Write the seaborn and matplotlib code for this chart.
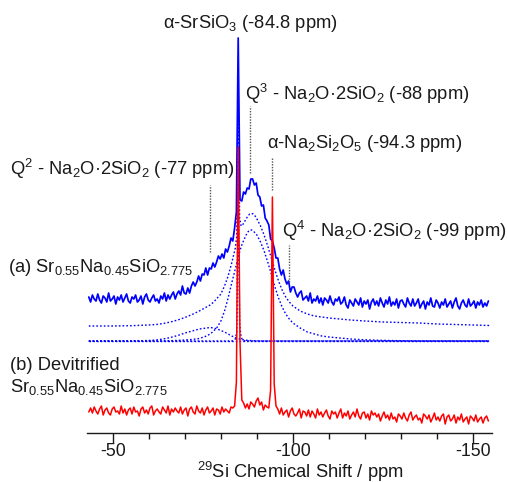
import numpy as np
import matplotlib
matplotlib.use("Agg")
import matplotlib.pyplot as plt
from matplotlib.ticker import MultipleLocator
import seaborn as sns

# ---------------------------------------------------------------------------
# 29Si MAS NMR spectra: glass (a) and devitrified sample (b)
# chemical-shift axis of both measured traces, 0.5 ppm steps
shift = np.round(-43.3 - 0.5 * np.arange(223), 1)

# (a) Sr0.55Na0.45SiO2.775 glass, intensity (a.u.)
glass_signal = [
    3, -2, 5, 1, -1, 6, 0, -3, 4, 2,
    -2, 7, -1, 1, 4, -4, 3, 0, 5, -2,
    2, 6, -1, -3, 3, 1, 5, -2, 0, 4,
    -4, 3, 6, 0, -2, 2, 5, -1, 1, -3,
    4, 1, 7, -1, 5, 1, 5, 8, 1, 6,
    9, 5, 14, 7, 6, 12, 7, 14, 18, 14,
    18, 24, 19, 26, 25, 32, 25, 32, 31, 37,
    33, 38, 44, 41, 46, 42, 51, 48, 54, 62,
    59, 72, 88, 262, 100, 99, 108, 106, 112, 111,
    121, 121, 115, 117, 105, 103, 94, 95, 82, 79,
    75, 61, 59, 52, 42, 42, 31, 25, 30, 21,
    16, 19, 8, 13, 13, 7, 3, 7, 9, 0,
    2, 4, -1, 7, -3, 1, -1, 4, -3, 2,
    -5, 2, 0, -3, 4, -2, -5, 1, -1, 3,
    -4, -2, 3, -5, -8, 0, -3, -6, 1, -2,
    -5, 2, -7, -1, -4, 0, -9, -2, 1, -5,
    -1, -6, 2, -3, -7, 0, -4, 3, -6, -2,
    -5, 1, -8, -1, 0, -4, -7, 2, -3, -6,
    1, -6, -3, 1, -8, -4, -1, -9, -2, -5,
    2, -6, -7, 0, -3, -8, -2, -5, 1, -7,
    -4, -1, -8, -2, 2, -6, -9, -3, 0, -5,
    -7, 1, -6, -4, -1, -8, -2, -5, 0, -7,
    -3, -6, -1,
]

# (b) devitrified Sr0.55Na0.45SiO2.775, intensity (a.u.)
devitrified_signal = [
    0, 4, -1, 5, 1, -2, 3, 6, -3, 2,
    4, -1, -3, 3, 5, 0, 1, -2, 6, -1,
    3, -3, 2, 4, -2, 5, 0, 1, -4, 3,
    5, -1, 2, -2, 4, 6, -3, 1, 3, 0,
    -2, 5, 2, -1, 6, -3, 3, 0, 4, 1,
    -1, 5, -2, 2, 4, -4, 3, 5, 0, -2,
    6, 1, -1, 4, -3, 2, 5, -1, 1, 4,
    -3, 3, 2, -2, 5, 0, 3, 1, -1, 5,
    4, 6, 30, 265, 70, 12, 9, 4, 8, 3,
    10, 8, 5, 11, 14, 7, 10, 2, 7, 5,
    4, 22, 215, 28, 6, 3, -2, 4, -3, 0,
    2, -5, 1, 4, -2, -4, -1, 3, -6, 1,
    0, -4, 2, -5, 1, -2, -6, 3, -3, 0,
    -5, -1, 2, -4, -7, 1, -2, 0, -6, -1,
    3, -6, -1, -4, 1, -7, -3, 0, -5, 3,
    -4, -7, -1, 0, -6, -2, -8, 1, -3, -1,
    -5, -2, -9, -4, 0, -6, -3, -8, -1, -7,
    -5, -10, -2, -4, -7, -1, -6, -9, -3, 0,
    -8, -5, -3, -8, -6, -11, -2, -4, -7, -3,
    -10, -6, -1, -8, -5, -9, -4, -2, -12, -5,
    -3, -9, -7, -3, -11, -5, -8, -2, -10, -7,
    -5, -12, -4, -6, -9, -3, -10, -7, -5, -11,
    -6, -4, -9,
]

# deconvolution of the glass spectrum
fit_shift = [
    -43.3, -50, -55, -60, -62, -64, -66, -68, -70, -72,
    -74, -76, -77, -78, -79, -80, -81, -82, -83, -84,
    -84.4, -84.8, -85.2, -85.6, -86, -86.5, -87, -87.5, -88, -88.5,
    -89, -89.5, -90, -91, -92, -93, -94, -95, -96, -97,
    -98, -99, -100, -102, -104, -106, -108, -110, -113, -116,
    -120, -125, -130, -135, -140, -145, -150, -154.5,
]
fit_total = [
    0, 0, 0.3, 1, 1.5, 2.5, 4, 6, 8.5, 11.5,
    15, 19, 21, 24, 28, 32, 40, 50, 63, 78,
    90, 239, 108, 100, 101, 104, 107, 110, 112, 112.5,
    112, 110, 107, 100, 91, 80, 68, 56, 45, 36,
    29, 24, 20, 15, 12, 10, 9, 8, 7, 6,
    5, 4, 3.5, 3, 2, 1.5, 1, 0.5,
]
fit_q3 = [
    0, 0, 0, 0, 0, 0, 0.3, 0.6, 1, 1.5,
    2.5, 5, 7, 10, 14, 20, 30, 43, 58, 72,
    78, 84, 89, 94, 98, 102, 106, 109, 111, 111,
    110, 108, 106, 99, 90, 79, 67, 54, 43, 34,
    27, 22, 18, 13, 9, 7, 5, 4, 3, 2,
    1.2, 0.6, 0.3, 0, 0, 0, 0, 0,
]
fit_q2 = [
    0, 0, 0, 0.5, 1, 2, 3.5, 5.5, 8, 10,
    12, 13, 13.5, 13, 12, 10.5, 9, 7, 5, 3.5,
    3, 2.5, 2, 1.6, 1.3, 1, 0.8, 0.6, 0.5, 0.4,
    0.3, 0.2, 0.1, 0, 0, 0, 0, 0, 0, 0,
    0, 0, 0, 0, 0, 0, 0, 0, 0, 0,
    0, 0, 0, 0, 0, 0, 0, 0,
]
fit_srsio3 = [
    0, 0, 0, 0, 0, 0, 0, 0, 0, 0,
    0, 0, 0, 0, 0, 0, 0, 0, 0, 2,
    9, 152, 17, 4, 1, 0.3, 0, 0, 0, 0,
    0, 0, 0, 0, 0, 0, 0, 0, 0, 0,
    0, 0, 0, 0, 0, 0, 0, 0, 0, 0,
    0, 0, 0, 0, 0, 0, 0, 0,
]
fit_baseline = [0] * len(fit_shift)

# assigned resonances (ppm)
marker_shift = [-77, -88, -94.3, -99]

# ---------------------------------------------------------------------------
# vertical stacking of the traces
offset_glass = 132.5
offset_total = 106.5
offset_components = 91.5
offset_devitrified = 20.5

BLUE = "#0000FF"
RED = "#FF0000"
DOT = (0, (1.2, 1.5))
INK = "#1a1a1a"

sns.set_theme(style="white")
plt.rcParams["font.family"] = ["Liberation Sans", "DejaVu Sans"]
plt.rcParams["mathtext.fontset"] = "custom"
plt.rcParams["mathtext.rm"] = "Liberation Sans"
plt.rcParams["mathtext.it"] = "Liberation Sans:italic"
plt.rcParams["mathtext.bf"] = "Liberation Sans:bold"
plt.rcParams["axes.unicode_minus"] = False

fig = plt.figure(figsize=(5.07, 4.82), dpi=100)
ax = fig.add_axes([87 / 507, 1 - 432.5 / 482, 405 / 507, 432.5 / 482])

# measured glass spectrum
sns.lineplot(x=shift, y=np.asarray(glass_signal) + offset_glass, ax=ax,
             color=BLUE, lw=1.25, estimator=None, sort=False)

# fitted envelope and individual components
fs = np.asarray(fit_shift)
sns.lineplot(x=fs, y=np.asarray(fit_total) + offset_total, ax=ax,
             color=BLUE, lw=1.0, linestyle=DOT, estimator=None, sort=False)
for comp in (fit_baseline, fit_q2, fit_q3, fit_srsio3):
    sns.lineplot(x=fs, y=np.asarray(comp) + offset_components, ax=ax,
                 color=BLUE, lw=1.0, linestyle=DOT, estimator=None, sort=False)

# devitrified spectrum
sns.lineplot(x=shift, y=np.asarray(devitrified_signal) + offset_devitrified,
             ax=ax, color=RED, lw=1.1, estimator=None, sort=False, zorder=5)

# resonance markers
marker_spans = [(180.5, 247.5), (259.5, 326.5), (242.5, 275.5), (150.5, 187.5)]
for xm, (y0, y1) in zip(marker_shift, marker_spans):
    ax.vlines(xm, y0, y1, colors="#555555", linestyles=(0, (1, 1)), lw=1.0)

FS = 13.2
txt = dict(fontsize=FS, color=INK, va="baseline")
ax.text(-88.1, 404.2, r"α-SrSiO$_3$ (-84.8 ppm)", ha="center", **txt)
ax.text(-86.7, 332.5, r"Q$^3$ - Na$_2$O·2SiO$_2$ (-88 ppm)", ha="left", **txt)
ax.text(-92.8, 284.5, r"α-Na$_2$Si$_2$O$_5$ (-94.3 ppm)", ha="left", **txt)
ax.text(-21.4, 257.5, r"Q$^2$ - Na$_2$O·2SiO$_2$ (-77 ppm)", ha="left", **txt)
ax.text(-97.0, 195.8, r"Q$^4$ - Na$_2$O·2SiO$_2$ (-99 ppm)", ha="left", **txt)
ax.text(-20.8, 160.5, r"(a) Sr$_{0.55}$Na$_{0.45}$SiO$_{2.775}$", ha="left", **txt)
ax.text(-21.4, 62.5, "(b) Devitrified", ha="left", **txt)
ax.text(-21.4, 40.8, r"Sr$_{0.55}$Na$_{0.45}$SiO$_{2.775}$", ha="left", **txt)

ax.set_xlim(-42.8, -155.3)
ax.set_ylim(0, 432.5)
ax.set_yticks([])
ax.set_xticks([-50, -100, -150])
ax.xaxis.set_minor_locator(MultipleLocator(10))
ax.tick_params(axis="x", which="major", length=7, width=1, pad=0.5,
               labelsize=12.8, direction="out", bottom=True, colors=INK)
ax.tick_params(axis="x", which="minor", length=4, width=1,
               direction="out", bottom=True, colors=INK)
ax.set_ylabel("")
ax.set_xlabel("")

# axis title, placed by its baseline below the tick labels
fig.text(300 / 507, 1 - 477.5 / 482, r"$^{29}$Si Chemical Shift / ppm",
         fontsize=FS, color=INK, ha="center", va="baseline")

sns.despine(ax=ax, left=True, top=True, right=True)
ax.spines["bottom"].set_color(INK)
ax.spines["bottom"].set_linewidth(1.0)
ax.patch.set_alpha(0)

fig.savefig("out.png", dpi=100, facecolor="white")
